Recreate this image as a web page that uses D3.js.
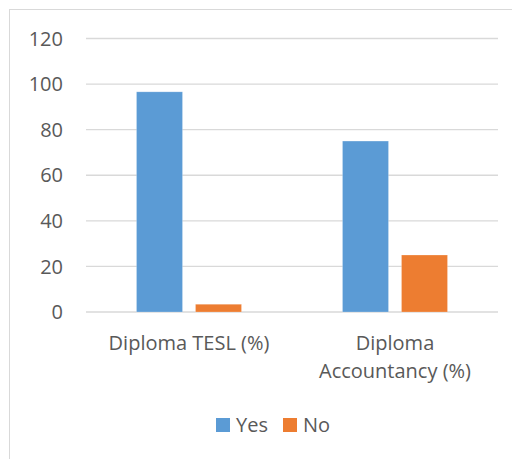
<!DOCTYPE html>
<html>
<head>
<meta charset="utf-8">
<script src="https://cdn.jsdelivr.net/npm/d3@7"></script>
<style>
  body { margin: 0; background: #fff; }
  svg { display: block; font-family: "Open Sans", sans-serif; }
</style>
</head>
<body>
<div id="chart"></div>
<script>
var width = 512;
var height = 459;

// data
var categories = [["Diploma TESL (%)"], ["Diploma", "Accountancy (%)"]];
var seriesNames = ["Yes", "No"];
var yesValues = [96.6, 75];
var noValues = [3.4, 25];
var yTicks = [0, 20, 40, 60, 80, 100, 120];
var colors = ["#5b9bd5", "#ed7d31"];

var svg = d3.select("#chart")
    .append("svg")
    .attr("width", width)
    .attr("height", height);

// chart frame
svg.append("rect")
    .attr("x", 9.5).attr("y", 9.5)
    .attr("width", width).attr("height", height)
    .attr("fill", "none")
    .attr("stroke", "#d9d9d9")
    .attr("stroke-width", 1);

var plotLeft = 86, plotRight = 498, plotTop = 38.5, plotBottom = 312;

var y = d3.scaleLinear().domain([0, 120]).range([plotBottom, plotTop]);
var x0 = d3.scaleBand().domain(d3.range(categories.length)).range([plotLeft, plotRight]);
var x1 = d3.scaleBand().domain(seriesNames).range([0, 105]).paddingInner(13 / 59);

// gridlines
svg.append("g")
  .selectAll("line")
  .data(yTicks)
  .enter()
  .append("line")
    .attr("x1", plotLeft).attr("x2", plotRight)
    .attr("y1", function(d) { return y(d); })
    .attr("y2", function(d) { return y(d); })
    .attr("stroke", "#d9d9d9")
    .attr("stroke-width", 1.3);

// y labels
svg.append("g")
  .selectAll("text")
  .data(yTicks)
  .enter()
  .append("text")
    .attr("x", 63)
    .attr("y", function(d) { return y(d); })
    .attr("dy", "0.36em")
    .attr("text-anchor", "end")
    .attr("fill", "#595959")
    .style("font-size", "20px")
    .text(function(d) { return d; });

// bars
var rows = categories.map(function(c, i) {
  return [{ s: "Yes", v: yesValues[i], c: 0 }, { s: "No", v: noValues[i], c: 1 }];
});

var groups = svg.append("g")
  .selectAll("g")
  .data(rows)
  .enter()
  .append("g")
    .attr("transform", function(d, i) { return "translate(" + (x0(i) + (x0.bandwidth() - 105) / 2) + ",0)"; });

groups.selectAll("rect")
  .data(function(d) { return d; })
  .enter()
  .append("rect")
    .attr("x", function(d) { return x1(d.s); })
    .attr("width", x1.bandwidth())
    .attr("y", function(d) { return y(d.v); })
    .attr("height", function(d) { return plotBottom - y(d.v); })
    .attr("fill", function(d) { return colors[d.c]; })
    .attr("stroke", "#fff")
    .attr("stroke-opacity", 0.3)
    .attr("stroke-width", 0.7);

// category labels
var cat = svg.append("g")
  .selectAll("text")
  .data(categories)
  .enter()
  .append("text")
    .attr("x", function(d, i) { return x0(i) + x0.bandwidth() / 2; })
    .attr("y", 350)
    .attr("text-anchor", "middle")
    .attr("fill", "#595959")
    .style("font-size", "20px");

cat.selectAll("tspan")
  .data(function(d) { return d; })
  .enter()
  .append("tspan")
    .attr("x", function() { return d3.select(this.parentNode).attr("x"); })
    .attr("dy", function(d, i) { return i === 0 ? 0 : 28; })
    .text(function(d) { return d; });

// legend
var legendX = [216, 283];
var legend = svg.append("g")
  .selectAll("g")
  .data(seriesNames)
  .enter()
  .append("g")
    .attr("transform", function(d, i) { return "translate(" + legendX[i] + ",418)"; });

legend.append("rect")
    .attr("width", 14).attr("height", 14)
    .attr("fill", function(d, i) { return colors[i]; });

legend.append("text")
    .attr("x", 20).attr("y", 14)
    .attr("fill", "#595959")
    .style("font-size", "20px")
    .text(function(d) { return d; });
</script>
</body>
</html>
